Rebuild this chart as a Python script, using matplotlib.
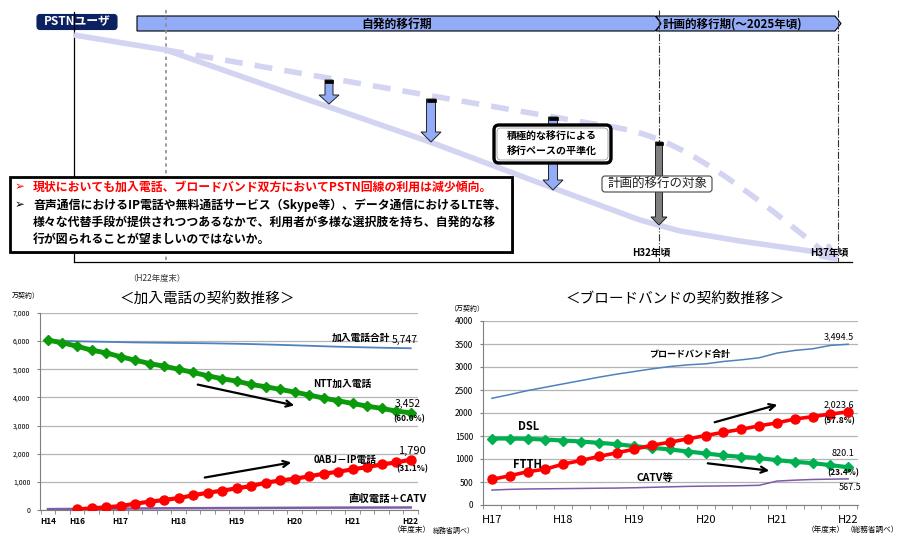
import matplotlib.pyplot as plt
import numpy as np
from matplotlib.patches import Polygon, FancyBboxPatch, Rectangle, PathPatch
from matplotlib.path import Path

plt.rcParams['font.family'] = ['Noto Sans CJK JP', 'DejaVu Sans']

# 加入電話の契約数推移 (万契約)
tel_ticks = ['H14', 'H16', 'H17', 'H18', 'H19', 'H20', 'H21', 'H22']
tel_tick_idx = [0, 2, 5, 9, 13, 17, 21, 25]
tel_total = [6050, 6010, 5995, 5985, 5975, 5965, 5955, 5948, 5942, 5936, 5930, 5924, 5916,
             5906, 5896, 5882, 5868, 5852, 5836, 5818, 5802, 5790, 5778, 5766, 5756, 5747]
ntt = [6035, 5940, 5820, 5680, 5585, 5445, 5325, 5205, 5110, 5000, 4890, 4770, 4665,
       4580, 4460, 4380, 4285, 4190, 4085, 3975, 3880, 3785, 3690, 3610, 3515, 3452]
ip_phone = [np.nan, np.nan, 20, 60, 95, 140, 225, 295, 355, 425, 520, 615, 685,
            770, 850, 970, 1050, 1110, 1195, 1290, 1360, 1445, 1525, 1620, 1690, 1790]
direct_catv = [30, 34, 38, 42, 46, 50, 54, 57, 60, 62, 64, 66, 68,
               70, 72, 74, 76, 78, 80, 82, 84, 85, 86, 87, 88, 90]

# ブロードバンドの契約数推移 (万契約)
bb_ticks = ['H17', 'H18', 'H19', 'H20', 'H21', 'H22']
bb_tick_idx = [0, 4, 8, 12, 16, 20]
bb_total = [2320, 2400, 2487, 2560, 2633, 2705, 2778, 2844, 2902, 2960, 3011,
            3047, 3069, 3120, 3156, 3200, 3302, 3360, 3396, 3469, 3494.5]
ftth = [556, 636, 723, 780, 889, 968, 1055, 1134, 1214, 1300, 1366,
        1438, 1510, 1582, 1647, 1720, 1785, 1869, 1920, 1978, 2023.6]
dsl = [1445, 1445, 1438, 1423, 1402, 1380, 1351, 1322, 1279, 1243, 1207,
       1163, 1120, 1077, 1048, 1019, 975, 939, 910, 867, 820.1]
catv = [325, 340, 348, 352, 356, 360, 365, 368, 375, 385, 395,
        405, 410, 415, 420, 428, 520, 540, 555, 562, 567.5]

W, H = 899, 537


def frac(x0, y0, x1, y1):
    return [x0 / W, 1 - y1 / H, (x1 - x0) / W, (y1 - y0) / H]


def style_chart(ax, ylim, ystep, yfmt, ylab_fs, xlab_fs, xbold, ncat):
    for s in ['top', 'right']:
        ax.spines[s].set_visible(False)
    for s in ['left', 'bottom']:
        ax.spines[s].set_color('#7f7f7f')
        ax.spines[s].set_linewidth(0.8)
    ax.set_ylim(*ylim)
    ax.set_yticks(np.arange(ylim[0], ylim[1] + 1, ystep))
    ax.set_yticklabels([yfmt(v) for v in np.arange(ylim[0], ylim[1] + 1, ystep)])
    ax.yaxis.grid(True, color='#b4b4b4', lw=0.9)
    ax.set_axisbelow(True)
    ax.tick_params(axis='y', length=2, labelsize=ylab_fs, pad=5, color='#7f7f7f')
    ax.set_xticks(np.arange(-0.5, ncat, 1), minor=True)
    ax.tick_params(axis='x', which='minor', length=3, color='#7f7f7f')
    ax.tick_params(axis='x', which='major', length=0, labelsize=xlab_fs, pad=5)
    for t in ax.get_xticklabels():
        t.set_fontweight('bold' if xbold else 'normal')


fig = plt.figure(figsize=(8.99, 5.37), dpi=100)

# ---- 加入電話 chart
ax1 = fig.add_axes(frac(40, 313, 418, 510))
x1 = np.arange(len(ntt))
ax1.plot(x1, tel_total, color='#4f81bd', lw=1.3, zorder=3)
ax1.plot(x1, direct_catv, color='#7d5ca8', lw=1.8, zorder=3)
ax1.plot(x1, ntt, color='#0a9a0a', lw=3.5, marker='D', ms=5, zorder=4)
ax1.plot(x1, ip_phone, color='#ff0000', lw=3, marker='o', ms=6.5, zorder=4)
ax1.set_xlim(-0.55, len(ntt) - 0.6)
ax1.set_xticks(tel_tick_idx)
ax1.set_xticklabels(tel_ticks)
style_chart(ax1, (0, 7000), 1000, lambda v: f'{int(v):,}', 5, 6, True, len(ntt))

# ---- ブロードバンド chart
ax2 = fig.add_axes(frac(483, 321, 858, 505))
x2 = np.arange(len(ftth))
ax2.plot(x2, bb_total, color='#4f81bd', lw=1.1, zorder=3)
ax2.plot(x2, catv, color='#7d5ca8', lw=1.1, zorder=3)
ax2.plot(x2, dsl, color='#00b050', lw=3, marker='D', ms=5, zorder=4)
ax2.plot(x2, ftth, color='#ff0000', lw=2.6, marker='o', ms=6.5, zorder=4)
ax2.set_xlim(-0.5, len(ftth) - 0.45)
ax2.set_xticks(bb_tick_idx)
ax2.set_xticklabels(bb_ticks)
style_chart(ax2, (0, 4000), 500, lambda v: f'{int(v)}', 6, 8, False, len(ftth))
ax2.tick_params(axis='x', which='major', pad=7)

# ---- overlay in pixel coordinates
ov = fig.add_axes([0, 0, 1, 1])
ov.set_xlim(0, W)
ov.set_ylim(H, 0)
ov.axis('off')

lav = '#d3d4f1'
blue = '#93acf7'

# axes of the concept diagram
ov.plot([74, 74], [12, 262], color='black', lw=0.9)
ov.plot([74, 852], [262, 262], color='black', lw=0.9)
ov.plot([166, 166], [10, 262], color='#8c8c8c', lw=1.2, ls=(0, (2, 2)))
ov.plot([659, 659], [10, 262], color='#333333', lw=0.8, ls='-.')
ov.plot([838, 838], [10, 262], color='#333333', lw=0.8, ls='-.')

# period bands
ov.add_patch(Polygon([(137, 16), (655, 16), (662, 23.5), (655, 31), (137, 31)],
                     closed=True, fc=blue, ec='black', lw=0.8))
ov.add_patch(Polygon([(656, 16), (835, 16), (841, 23.5), (835, 31), (656, 31), (661, 23.5)],
                     closed=True, fc=blue, ec='black', lw=0.8))
ov.text(397, 24, '自発的移行期', fontsize=8.5, fontweight='bold', ha='center', va='center')
ov.text(663, 24, '計画的移行期(～2025年頃)', fontsize=8.3, fontweight='bold', ha='left', va='center')

ov.add_patch(FancyBboxPatch((37, 14.5), 80, 15, boxstyle='round,pad=0,rounding_size=3',
                            fc='#0c2160', ec='#0c2160', lw=0.8))
ov.text(77, 22, 'PSTNユーザ', color='white', fontsize=8.5, fontweight='bold', ha='center', va='center')

# PSTN user curves
sx = [74, 166, 280, 430, 553, 640, 680, 740, 838]
sy = [35, 50, 90, 142, 188, 220, 231, 241, 255]
ov.plot(sx, sy, color=lav, lw=4, solid_joinstyle='round', solid_capstyle='butt')
dpath = Path([(166, 50), (600, 125), (660, 133), (700, 150), (830, 257)],
             [Path.MOVETO, Path.LINETO, Path.CURVE4, Path.CURVE4, Path.CURVE4])
ov.add_patch(PathPatch(dpath, fill=False, ec=lav, lw=4, ls=(0, (3.2, 2.2))))
ov.annotate('', xy=(842, 264), xytext=(826, 252),
            arrowprops=dict(arrowstyle='->', color=lav, lw=4, mutation_scale=22))


def down_arrow(x, top, bottom, bw, hw, hl, fc):
    pts = [(x - bw / 2, top), (x + bw / 2, top), (x + bw / 2, bottom - hl),
           (x + hw / 2, bottom - hl), (x, bottom), (x - hw / 2, bottom - hl),
           (x - bw / 2, bottom - hl)]
    ov.add_patch(Polygon(pts, closed=True, fc=fc, ec='#222222', lw=0.7, zorder=5))
    ov.add_patch(Rectangle((x - bw / 2, top), bw, 2.5, fc='black', ec='black', lw=0.5, zorder=6))


down_arrow(329, 80, 104, 8, 20, 9, blue)
down_arrow(431, 99, 142, 9, 20, 10, blue)
down_arrow(553, 117, 190, 9, 20, 10, blue)
down_arrow(659, 142, 225, 7, 16, 8, '#7f7f7f')

# callouts
ov.add_patch(FancyBboxPatch((494, 125), 117, 38, boxstyle='round,pad=0,rounding_size=5',
                            fc='white', ec='black', lw=2.4, zorder=7))
ov.add_patch(FancyBboxPatch((497, 128), 111, 32, boxstyle='round,pad=0,rounding_size=4',
                            fc='white', ec='#9a9a9a', lw=0.6, zorder=7))
ov.text(552, 137, '積極的な移行による', fontsize=7.2, fontweight='bold', ha='center', va='center', zorder=8)
ov.text(552, 151, '移行ペースの平準化', fontsize=7.2, fontweight='bold', ha='center', va='center', zorder=8)

ov.add_patch(FancyBboxPatch((602, 176), 110, 16, boxstyle='round,pad=0,rounding_size=3',
                            fc='white', ec='#444444', lw=0.8, zorder=7))
ov.text(657, 184, '計画的移行の対象', fontsize=9, ha='center', va='center', zorder=8, color='#222222')

# message box
ov.add_patch(Rectangle((12, 179), 502, 75, fc='#8a8a8a', ec='none', zorder=7))
ov.add_patch(Rectangle((10, 177), 502, 75, fc='white', ec='black', lw=2, zorder=7))
msg = [('現状においても加入電話、ブロードバンド双方においてPSTN回線の利用は減少傾向。', 187, '#ff0000', True),
       ('音声通信におけるIP電話や無料通話サービス（Skype等）、データ通信におけるLTE等、', 205, 'black', True),
       ('様々な代替手段が提供されつつあるなかで、利用者が多様な選択肢を持ち、自発的な移', 222, 'black', False),
       ('行が図られることが望ましいのではないか。', 239, 'black', False)]
for txt, yy, col, bullet in msg:
    if bullet:
        ov.text(15, yy, '➢', fontsize=8.5, color=col, ha='left', va='center', zorder=8,
                family=['DejaVu Sans'])
    ov.text(33, yy, txt, fontsize=8.55, fontweight='bold', color=col, ha='left', va='center', zorder=8)

ov.text(651, 253, 'H32年頃', fontsize=7, fontweight='bold', ha='center', va='center')
ov.text(829, 253, 'H37年頃', fontsize=7, fontweight='bold', ha='center', va='center')
ov.text(157, 278, '（H22年度末）', fontsize=6, ha='center', va='center', color='#333333')

# ---- chart titles and labels
ov.text(207, 299, '＜加入電話の契約数推移＞', fontsize=10.5, ha='center', va='center')
ov.text(675, 299, '＜ブロードバンドの契約数推移＞', fontsize=10.5, ha='center', va='center')
ov.text(12, 296, '万契約）', fontsize=5, ha='left', va='center')
ov.text(449, 309, '（万契約）', fontsize=5, ha='left', va='center')

ov.text(361, 338, '加入電話合計', fontsize=7, fontweight='bold', ha='center', va='center')
ov.text(405, 340, f'{tel_total[-1]:,}', fontsize=7.5, ha='center', va='center')
ov.text(342, 384, 'NTT加入電話', fontsize=7, fontweight='bold', ha='center', va='center')
ov.text(408, 404, f'{ntt[-1]:,}', fontsize=7.5, ha='center', va='center')
ov.text(409, 419, '(60.0%)', fontsize=6, fontweight='bold', ha='center', va='center')
ov.text(345, 460, '0ABJ－IP電話', fontsize=7, fontweight='bold', style='italic', ha='center', va='center')
ov.text(412, 451, f'{ip_phone[-1]:,}', fontsize=8, ha='center', va='center')
ov.text(412, 469, '(31.1%)', fontsize=6, fontweight='bold', ha='center', va='center')
ov.text(388, 499, '直収電話＋CATV', fontsize=7.5, fontweight='bold', ha='center', va='center')
ov.text(412, 530, '（年度末）', fontsize=5.5, ha='center', va='center')
ov.text(433, 531, '総務省調べ）', fontsize=5, ha='left', va='center')

ov.text(690, 354, 'ブロードバンド合計', fontsize=6.5, fontweight='bold', ha='center', va='center')
ov.text(839, 337, f'{bb_total[-1]:,}', fontsize=6.5, ha='center', va='center')
ov.text(839, 405, f'{ftth[-1]:,}', fontsize=6.5, ha='center', va='center')
ov.text(839, 421, '(57.8%)', fontsize=6, fontweight='bold', ha='center', va='center')
ov.text(529, 427, 'DSL', fontsize=8, fontweight='bold', style='italic', ha='center', va='center')
ov.text(527, 464, 'FTTH', fontsize=8, fontweight='bold', style='italic', ha='center', va='center')
ov.text(843, 454, f'{dsl[-1]}', fontsize=6.5, ha='center', va='center')
ov.text(843, 473, '(23.4%)', fontsize=6, fontweight='bold', ha='center', va='center')
ov.text(850, 487, f'{catv[-1]}', fontsize=6.5, ha='center', va='center')
ov.text(655, 478, 'CATV等', fontsize=7.5, fontweight='bold', ha='center', va='center')
ov.text(826, 530, '（年度末）', fontsize=5.5, ha='center', va='center')
ov.text(872, 530, '（総務省調べ）', fontsize=5.5, ha='center', va='center')

# trend arrows
arr = dict(arrowstyle='->', color='black', lw=1.6, mutation_scale=11)
ov.annotate('', xy=(297, 406), xytext=(195, 384), arrowprops=arr)
ov.annotate('', xy=(294, 462), xytext=(202, 478), arrowprops=arr)
ov.annotate('', xy=(780, 404), xytext=(712, 423), arrowprops=arr)
ov.annotate('', xy=(772, 471), xytext=(705, 463), arrowprops=arr)

fig.savefig('out.png', dpi=100)
